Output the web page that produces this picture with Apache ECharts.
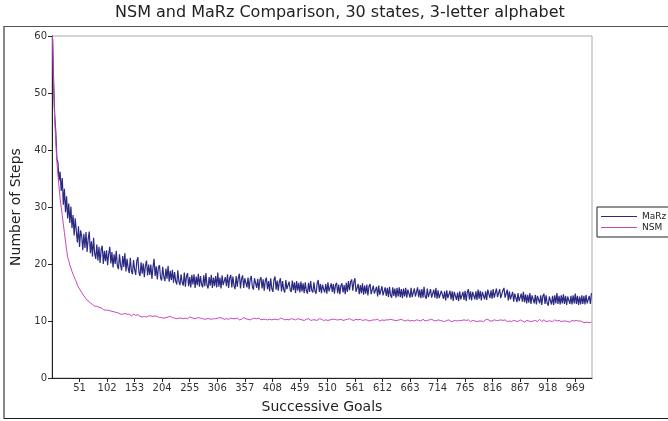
<!DOCTYPE html>
<html>
<head>
<meta charset="utf-8">
<script src="https://cdn.jsdelivr.net/npm/echarts@6/dist/echarts.min.js"></script>
<style>
  html, body { margin: 0; padding: 0; background: #fff; }
  #chart { width: 668px; height: 421px; }
</style>
</head>
<body>
<div id="chart"></div>
<script>
// mean steps per goal, sampled every other goal (goal 1, 3, 5, ... 999)
const marz = [
  59.5, 52.0, 46.0, 43.2, 38.5, 37.8, 34.6, 36.2, 32.8, 35.1,
  30.4, 33.2, 29.1, 31.9, 28.0, 30.6, 27.2, 30.1, 26.3, 28.6,
  25.0, 28.0, 25.8, 23.8, 26.6, 23.0, 25.9, 24.9, 22.4, 25.3,
  22.8, 25.6, 22.1, 24.4, 25.7, 21.9, 24.0, 21.3, 24.6, 21.8,
  20.9, 23.4, 20.6, 23.0, 20.2, 22.5, 23.2, 20.0, 22.3, 20.5,
  22.4, 19.8, 21.8, 23.0, 20.1, 22.1, 19.4, 21.7, 20.0, 22.3,
  19.7, 19.1, 21.7, 19.8, 18.9, 21.4, 19.5, 21.9, 18.7, 20.9,
  19.3, 18.4, 21.1, 18.8, 18.2, 20.7, 19.0, 18.1, 20.5, 21.2,
  18.5, 17.9, 20.3, 18.3, 20.1, 17.7, 19.7, 20.6, 18.0, 19.9,
  18.1, 19.9, 17.4, 19.4, 20.9, 17.9, 19.6, 17.3, 19.3, 19.8,
  17.6, 17.1, 19.5, 17.8, 17.0, 19.2, 17.4, 19.7, 16.9, 18.8,
  17.2, 19.0, 16.7, 18.6, 17.0, 16.4, 18.9, 16.9, 16.3, 18.2,
  16.8, 16.2, 18.5, 16.0, 17.8, 18.4, 16.1, 17.7, 15.9, 18.1,
  16.4, 18.2, 15.8, 17.8, 16.3, 18.3, 16.0, 17.9, 16.4, 15.9,
  18.0, 16.1, 18.4, 16.3, 15.7, 17.7, 16.2, 18.1, 15.8, 17.6,
  16.1, 17.9, 15.9, 18.5, 16.0, 17.6, 15.7, 18.0, 16.3, 16.0,
  17.7, 16.1, 18.2, 15.8, 17.5, 18.1, 15.9, 17.8, 16.2, 15.6,
  17.9, 16.0, 17.5, 18.3, 15.7, 17.4, 18.0, 15.8, 17.5, 17.7,
  15.9, 17.6, 15.6, 17.3, 17.9, 16.0, 15.5, 17.5, 17.8, 15.8,
  17.4, 15.4, 17.2, 17.7, 15.7, 17.3, 15.3, 17.1, 17.6, 15.6,
  17.0, 15.2, 17.5, 15.7, 15.1, 17.2, 17.8, 15.5, 17.1, 15.3,
  16.9, 17.5, 15.2, 17.0, 15.5, 15.0, 17.2, 15.6, 15.3, 16.9,
  15.5, 15.1, 17.1, 15.4, 16.8, 14.9, 17.0, 15.3, 16.7, 15.0,
  16.9, 15.2, 16.6, 14.9, 16.8, 15.3, 14.8, 16.7, 15.1, 17.0,
  15.4, 15.0, 16.8, 15.2, 14.8, 16.6, 17.2, 15.1, 16.5, 14.9,
  16.4, 15.6, 15.0, 16.5, 14.8, 16.8, 15.2, 14.9, 16.6, 15.1,
  16.5, 14.8, 16.3, 16.7, 14.9, 16.4, 14.7, 16.2, 16.6, 15.0,
  16.3, 14.7, 16.7, 15.1, 17.0, 15.4, 16.9, 17.3, 15.3, 16.8,
  17.5, 15.1, 14.8, 16.5, 14.7, 16.3, 14.9, 16.6, 14.6, 16.2,
  14.8, 16.4, 14.5, 16.1, 16.5, 14.7, 14.4, 16.2, 14.8, 14.5,
  16.0, 14.3, 16.2, 14.6, 14.4, 16.1, 14.5, 14.2, 15.9, 14.4,
  15.8, 14.2, 16.0, 14.5, 14.1, 15.9, 14.4, 15.7, 14.1, 15.8,
  14.3, 15.9, 14.2, 15.6, 14.0, 15.7, 14.3, 15.8, 14.1, 15.5,
  15.6, 14.1, 15.8, 14.2, 13.9, 15.7, 14.3, 14.0, 15.9, 14.2,
  15.5, 14.0, 15.6, 14.1, 16.0, 14.3, 13.9, 15.7, 14.2, 14.0,
  15.6, 14.1, 13.8, 15.5, 14.1, 15.8, 13.9, 15.4, 14.0, 13.7,
  15.3, 15.5, 13.9, 15.2, 13.6, 15.4, 14.0, 13.7, 15.3, 13.8,
  15.2, 13.5, 15.1, 15.4, 13.7, 15.0, 13.5, 15.2, 13.8, 13.6,
  15.1, 13.7, 15.3, 13.5, 15.0, 15.6, 13.8, 15.2, 13.6, 15.1,
  15.4, 13.8, 15.2, 13.7, 15.5, 13.9, 15.3, 13.6, 15.1, 15.4,
  13.8, 15.2, 13.7, 15.5, 15.8, 14.0, 15.4, 13.9, 15.6, 14.1,
  13.8, 15.7, 14.2, 13.9, 15.6, 14.0, 13.7, 15.4, 15.8, 14.1,
  13.9, 15.5, 13.6, 15.2, 13.8, 13.5, 15.1, 13.4, 14.8, 15.0,
  13.3, 14.9, 13.5, 13.2, 14.8, 13.4, 15.1, 13.3, 14.7, 13.1,
  14.6, 13.2, 14.9, 13.0, 14.5, 14.8, 13.1, 14.6, 12.9, 14.4,
  14.7, 13.1, 14.5, 12.8, 14.4, 14.8, 13.0, 14.5, 13.1, 12.7,
  14.3, 14.6, 12.9, 14.4, 12.8, 14.5, 13.1, 14.9, 13.0, 14.4,
  12.9, 14.5, 13.1, 14.7, 13.0, 14.4, 12.8, 14.3, 14.6, 13.0,
  14.4, 12.9, 14.5, 13.1, 14.8, 13.0, 14.4, 12.8, 14.3, 12.9,
  14.5, 13.0, 14.4, 12.9, 14.6, 13.1, 12.8, 14.4, 13.0, 14.9
];
const nsm = [
  60.0, 51.0, 45.5, 41.5, 38.0, 35.5, 33.5, 31.5, 30.0, 28.5,
  27.0, 25.5, 24.0, 22.5, 21.2, 20.6, 19.8, 19.3, 18.7, 18.2,
  17.8, 17.3, 16.9, 16.3, 16.0, 15.6, 15.3, 15.0, 14.8, 14.4,
  14.3, 13.9, 13.8, 13.5, 13.4, 13.2, 13.0, 12.9, 12.7, 12.6,
  12.5, 12.6, 12.3, 12.4, 12.2, 12.3, 12.1, 12.0, 12.1, 11.9,
  11.8, 11.9, 11.7, 11.8, 11.6, 11.7, 11.5, 11.6, 11.4, 11.5,
  11.3, 11.4, 11.3, 11.2, 11.4, 11.2, 11.1, 11.3, 11.1, 11.2,
  11.0, 11.2, 11.1, 10.9, 11.0, 11.2, 10.9, 11.0, 10.8, 11.1,
  10.9, 10.8, 11.0, 10.7, 10.9, 10.8, 11.0, 10.7, 10.8, 10.9,
  10.7, 10.9, 10.6, 10.8, 10.7, 10.9, 10.6, 10.8, 10.7, 10.6,
  10.8, 10.6, 10.7, 10.5, 10.8, 10.6, 10.5, 10.7, 10.6, 10.8,
  10.5, 10.6, 10.7, 10.5, 10.6, 10.4, 10.7, 10.5, 10.6, 10.5,
  10.7, 10.4, 10.6, 10.5, 10.6, 10.4, 10.5, 10.7, 10.4, 10.6,
  10.5, 10.4, 10.6, 10.5, 10.3, 10.6, 10.4, 10.5, 10.6, 10.4,
  10.5, 10.3, 10.6, 10.4, 10.5, 10.4, 10.6, 10.3, 10.5, 10.4,
  10.6, 10.4, 10.3, 10.5, 10.4, 10.6, 10.3, 10.5, 10.4, 10.3,
  10.5, 10.4, 10.6, 10.3, 10.4, 10.5, 10.3, 10.4, 10.6, 10.4,
  10.3, 10.5, 10.4, 10.2, 10.5, 10.3, 10.4, 10.6, 10.3, 10.4,
  10.5, 10.3, 10.4, 10.2, 10.5, 10.4, 10.3, 10.5, 10.2, 10.4,
  10.3, 10.5, 10.4, 10.2, 10.4, 10.3, 10.5, 10.3, 10.4, 10.2,
  10.4, 10.3, 10.5, 10.2, 10.4, 10.3, 10.6, 10.3, 10.4, 10.2,
  10.3, 10.5, 10.2, 10.4, 10.3, 10.2, 10.4, 10.3, 10.5, 10.2,
  10.3, 10.4, 10.2, 10.3, 10.5, 10.2, 10.3, 10.4, 10.2, 10.3,
  10.4, 10.2, 10.3, 10.1, 10.4, 10.3, 10.2, 10.4, 10.3, 10.1,
  10.3, 10.2, 10.4, 10.2, 10.3, 10.1, 10.3, 10.4, 10.2, 10.3,
  10.2, 10.1, 10.3, 10.2, 10.4, 10.1, 10.3, 10.2, 10.1, 10.3,
  10.2, 10.3, 10.1, 10.2, 10.4, 10.2, 10.1, 10.3, 10.2, 10.1,
  10.3, 10.2, 10.1, 10.3, 10.2, 10.4, 10.1, 10.2, 10.3, 10.1,
  10.2, 10.3, 10.1, 10.2, 10.0, 10.3, 10.2, 10.1, 10.3, 10.2,
  10.1, 10.2, 10.3, 10.0, 10.2, 10.1, 10.3, 10.2, 10.0, 10.2,
  10.1, 10.3, 10.2, 10.0, 10.1, 10.2, 10.3, 10.1, 10.0, 10.2,
  10.1, 10.2, 10.0, 10.3, 10.1, 10.2, 10.0, 10.1, 10.2, 10.1,
  10.0, 10.2, 10.1, 10.3, 10.0, 10.1, 10.2, 10.0, 10.1, 10.2,
  10.1, 10.0, 10.2, 10.1, 10.3, 10.0, 10.1, 10.2, 10.0, 10.1,
  10.2, 10.0, 10.1, 10.3, 10.1, 10.0, 10.2, 10.1, 10.0, 10.2,
  10.1, 10.3, 10.0, 10.1, 10.2, 10.0, 10.1, 10.2, 9.9, 10.1,
  10.2, 10.0, 10.1, 9.9, 10.2, 10.1, 10.0, 10.2, 10.1, 9.9,
  10.1, 10.0, 10.2, 10.1, 9.9, 10.0, 10.2, 10.1, 10.0, 10.1,
  10.0, 10.2, 9.9, 10.1, 10.0, 10.2, 10.1, 9.9, 10.0, 10.1,
  10.2, 10.0, 10.1, 9.9, 10.1, 10.0, 10.2, 10.0, 10.1, 9.9,
  10.0, 10.2, 10.1, 10.3, 10.1, 10.0, 10.2, 10.0, 10.1, 10.2,
  10.0, 10.1, 10.3, 10.1, 10.0, 10.2, 9.9, 10.1, 10.0, 10.2,
  10.0, 9.9, 10.1, 10.0, 10.2, 9.9, 10.0, 10.1, 9.9, 10.0,
  10.1, 9.9, 10.0, 10.2, 9.9, 10.0, 10.1, 9.8, 10.0, 10.1,
  9.9, 10.0, 10.2, 9.9, 10.1, 10.0, 9.8, 10.1, 10.0, 9.9,
  10.1, 10.3, 10.0, 9.9, 10.1, 10.2, 10.0, 9.9, 10.1, 10.0,
  9.8, 10.0, 10.1, 9.9, 10.0, 10.2, 9.9, 10.0, 9.8, 10.1,
  10.0, 9.9, 10.1, 10.0, 9.8, 10.0, 10.1, 9.9, 10.0, 9.8,
  10.0, 10.1, 9.9, 10.0, 9.8, 10.1, 9.9, 10.0, 9.8, 10.0,
  9.9, 9.8, 10.0, 9.7, 9.9, 9.8, 10.0, 9.7, 9.9, 9.8
];
const xTicks = [51, 102, 153, 204, 255, 306, 357, 408, 459, 510, 561, 612, 663, 714, 765, 816, 867, 918, 969];
const yTicks = [0, 10, 20, 30, 40, 50, 60];

const goals = marz.map((_, i) => 1 + i * 2);
const font = "DejaVu Sans";

const chart = echarts.init(document.getElementById("chart"));
chart.setOption({
  animation: false,
  backgroundColor: "#fff",
  textStyle: { fontFamily: font },
  title: {
    text: "NSM and MaRz Comparison, 30 states, 3-letter alphabet",
    left: 110,
    top: 0,
    textStyle: { fontFamily: font, fontSize: 16, fontWeight: "normal", color: "#222" },
  },
  legend: {
    orient: "vertical",
    left: 597,
    top: 207,
    padding: [5, 40, 5, 4],
    icon: "rect",
    itemWidth: 36,
    itemHeight: 1.2,
    itemGap: 2,
    borderColor: "#222",
    borderWidth: 1,
    backgroundColor: "#fff",
    textStyle: { fontFamily: font, fontSize: 9, color: "#222" },
    data: ["MaRz", "NSM"],
  },
  grid: {
    left: 52, top: 36, right: 76, bottom: 43,
    show: true, borderColor: "#aaa", borderWidth: 1,
  },
  xAxis: {
    type: "value",
    min: 0, max: 1000,
    name: "Successive Goals",
    nameLocation: "middle",
    nameGap: 22,
    nameTextStyle: { fontFamily: font, fontSize: 14, color: "#222" },
    axisLine: { show: true, lineStyle: { color: "#222" } },
    axisTick: { show: true, length: 4, customValues: xTicks, lineStyle: { color: "#222" } },
    axisLabel: { customValues: xTicks, fontSize: 10, color: "#333", margin: 5 },
    splitLine: { show: false },
  },
  yAxis: {
    type: "value",
    min: 0, max: 60, interval: 10,
    name: "Number of Steps",
    nameLocation: "middle",
    nameGap: 29,
    nameTextStyle: { fontFamily: font, fontSize: 14, color: "#222" },
    axisLine: { show: true, lineStyle: { color: "#222" } },
    axisTick: { show: true, length: 4, customValues: yTicks, lineStyle: { color: "#222" } },
    axisLabel: { customValues: yTicks, fontSize: 10, color: "#333", margin: 5 },
    splitLine: { show: false },
  },
  series: [
    {
      name: "MaRz",
      type: "line",
      symbol: "none",
      data: goals.map((g, i) => [g, marz[i]]),
      lineStyle: { color: "#2b2a82", width: 1.2 },
      itemStyle: { color: "#2b2a82" },
    },
    {
      name: "NSM",
      type: "line",
      symbol: "none",
      data: goals.map((g, i) => [g, nsm[i]]),
      lineStyle: { color: "#c845b8", width: 1 },
      itemStyle: { color: "#c845b8" },
    },
  ],
  graphic: [
    { type: "line", shape: { x1: 4, y1: 26, x2: 4, y2: 419 }, style: { stroke: "#888", lineWidth: 2 } },
    { type: "line", shape: { x1: 4, y1: 26.5, x2: 668, y2: 26.5 }, style: { stroke: "#555", lineWidth: 1 } },
    { type: "line", shape: { x1: 4, y1: 418.5, x2: 668, y2: 418.5 }, style: { stroke: "#222", lineWidth: 1 } },
  ],
});
</script>
</body>
</html>
